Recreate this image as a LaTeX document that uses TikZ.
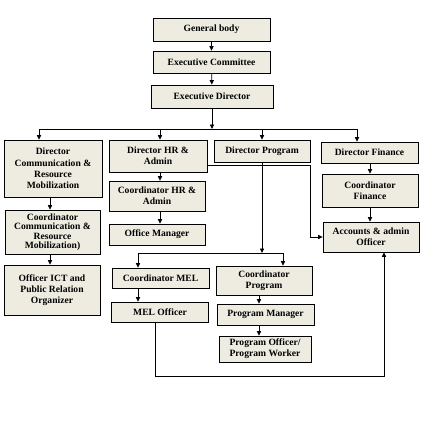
\documentclass[tikz,border=0pt]{standalone}
\usepackage{fontspec}
\setmainfont{Liberation Serif}
\usetikzlibrary{arrows.meta}
\definecolor{boxfill}{HTML}{EEECE1}
\begin{document}
\begin{tikzpicture}
		[x=1pt,y=-1pt,
		unit/.style={rectangle,draw=black,fill=boxfill,line width=0.8pt,
inner sep=0pt,align=center,font=\bfseries\fontsize{9.6}{11.3}\selectfont},
		tight/.style={font=\bfseries\fontsize{9.6}{9.4}\selectfont},
		link/.style={line width=0.8pt,-{Triangle[length=4.5pt,width=4.2pt]}},
		wire/.style={line width=0.8pt}]
		\useasboundingbox (0,0) rectangle (437,423);
		\node at (211.5,29.5) (gb) [unit,minimum width=117pt,minimum height=23pt] {General body};
		\node at (211.5,62) (ec) [unit,minimum width=117pt,minimum height=22pt] {Executive Committee};
		\node at (212,96.5) (ed) [unit,minimum width=122pt,minimum height=23pt] {Executive Director};
		\node at (53,168.5) (dcom) [unit,minimum width=98pt,minimum height=57pt] {Director\\Communication \&\\Resource\\Mobilization};
		\node at (158,156) (dhr) [unit,minimum width=98pt,minimum height=32pt] {Director HR \&\\Admin};
		\node at (262,151) (dprog) [unit,minimum width=96pt,minimum height=22pt] {Director Program};
		\node at (369.5,152.5) (dfin) [unit,minimum width=97pt,minimum height=21pt] {Director Finance};
		\node at (52.5,232) (ccom) [unit,tight,minimum width=95pt,minimum height=44pt] {Coordinator\\Communication \&\\Resource\\Mobilization)};
		\node at (52,290) (oict) [unit,minimum width=96pt,minimum height=50pt] {Officer ICT and\\Public Relation\\Organizer};
		\node at (157,196) (chr) [unit,minimum width=96pt,minimum height=30pt] {Coordinator HR \&\\Admin};
		\node at (157,234.5) (om) [unit,minimum width=96pt,minimum height=21pt] {Office Manager};
		\node at (370,190.5) (cfin) [unit,minimum width=96pt,minimum height=33pt] {Coordinator\\Finance};
		\node at (371,237) (acc) [unit,minimum width=96pt,minimum height=30pt] {Accounts \& admin\\Officer};
		\node at (160.5,278) (cmel) [unit,minimum width=97pt,minimum height=20pt] {Coordinator MEL};
		\node at (160,312) (melo) [unit,minimum width=97pt,minimum height=20pt] {MEL Officer};
		\node at (264,280.5) (cprog) [unit,minimum width=96pt,minimum height=29pt] {Coordinator\\Program};
		\node at (265.5,314.5) (pm) [unit,minimum width=97pt,minimum height=21pt] {Program Manager};
		\node at (265,349) (po) [unit,minimum width=92pt,minimum height=26pt] {Program Officer/\\Program Worker};
		\coordinate (bus) at (212,129);
		\coordinate (busL) at (39,129);
		\coordinate (busR) at (357,129);
		\coordinate (bus2L) at (138,253);
		\coordinate (bus2R) at (283,253);
		\coordinate (colA) at (50,0);
		\coordinate (colB) at (160,0);
		\coordinate (colP) at (259,0);
		\coordinate (colF) at (370,0);
		\coordinate (hrout) at (207.5,165);
		\coordinate (jog) at (310,165);
		\coordinate (loop) at (155,376);
		\coordinate (loopR) at (384,376);
		\draw[link] (gb) -- (ec);
		\draw[link] (ec) -- (ed);
		\draw[link] (ed) -- (bus);
		\draw[wire] (busL) -- (busR);
		\draw[link] (busL) -- (busL |- dcom.north);
		\draw[link] (colB |- bus) -- (colB |- dhr.north);
		\draw[link] (dprog.north |- bus) -- (dprog.north);
		\draw[link] (busR) -- (busR |- dfin.north);
		\draw[link] (colA |- dcom.south) -- (colA |- ccom.north);
		\draw[link] (colA |- ccom.south) -- (colA |- oict.north);
		\draw[link] (colB |- dhr.south) -- (colB |- chr.north);
		\draw[link] (colB |- chr.south) -- (colB |- om.north);
		\draw[link] (colF |- dfin.south) -- (colF |- cfin.north);
		\draw[link] (colF |- cfin.south) -- (colF |- acc.north);
		\draw[link] (hrout) -- (jog) |- (acc.west);
		\draw[link] (dprog) -- (dprog |- bus2L);
		\draw[wire] (bus2L) -- (bus2R);
		\draw[link] (bus2L) -- (bus2L |- cmel.north);
		\draw[link] (bus2R) -- (bus2R |- cprog.north);
		\draw[link] (bus2L |- cmel.south) -- (bus2L |- melo.north);
		\draw[link] (colP |- cprog.south) -- (colP |- pm.north);
		\draw[link] (colP |- pm.south) -- (colP |- po.north);
		\draw[link] (loop |- melo.south) -- (loop) -- (loopR) -- (loopR |- acc.south);
\end{tikzpicture}
\end{document}
